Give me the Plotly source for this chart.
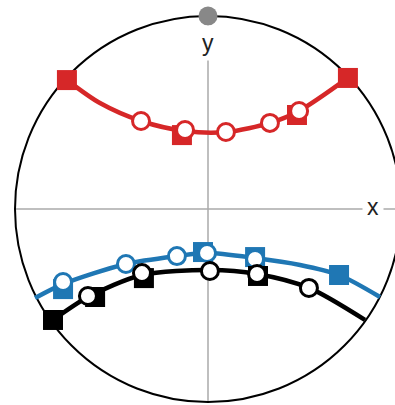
import plotly.graph_objects as go

# Curves inside the unit circle (x, y in circle units)
red_line_x = [-0.731, -0.560, -0.347, -0.119, 0.098, 0.321, 0.472, 0.725]
red_line_y = [0.668, 0.549, 0.456, 0.404, 0.399, 0.446, 0.508, 0.679]
red_sq_x = [-0.731, -0.135, 0.461, 0.725]
red_sq_y = [0.668, 0.383, 0.487, 0.679]
red_ci_x = [-0.347, -0.119, 0.093, 0.321, 0.472]
red_ci_y = [0.456, 0.409, 0.399, 0.446, 0.508]

blue_line_x = [-0.896, -0.751, -0.425, -0.161, -0.005, 0.244, 0.477, 0.679, 0.891]
blue_line_y = [-0.461, -0.389, -0.285, -0.244, -0.228, -0.254, -0.290, -0.342, -0.456]
blue_sq_x = [-0.751, -0.026, 0.244, 0.679]
blue_sq_y = [-0.415, -0.223, -0.249, -0.342]
blue_ci_x = [-0.751, -0.425, -0.161, -0.005, 0.244]
blue_ci_y = [-0.378, -0.285, -0.244, -0.228, -0.259]

black_line_x = [-0.803, -0.622, -0.342, 0.010, 0.254, 0.523, 0.813]
black_line_y = [-0.575, -0.456, -0.342, -0.316, -0.337, -0.409, -0.575]
black_sq_x = [-0.803, -0.585, -0.332, 0.259]
black_sq_y = [-0.575, -0.456, -0.358, -0.347]
black_ci_x = [-0.622, -0.342, 0.010, 0.254, 0.523]
black_ci_y = [-0.451, -0.332, -0.321, -0.337, -0.409]

pole_x = [0.0]
pole_y = [1.0]

RED = "#d62728"
BLUE = "#1f77b4"
BLACK = "#000000"

fig = go.Figure()

series = [
    (RED, red_line_x, red_line_y, red_sq_x, red_sq_y, red_ci_x, red_ci_y),
    (BLUE, blue_line_x, blue_line_y, blue_sq_x, blue_sq_y, blue_ci_x, blue_ci_y),
    (BLACK, black_line_x, black_line_y, black_sq_x, black_sq_y, black_ci_x, black_ci_y),
]

for color, lx, ly, sx, sy, cx, cy in series:
    fig.add_trace(go.Scatter(
        x=lx, y=ly, mode="lines",
        line=dict(color=color, width=4.5, shape="spline", smoothing=0.8),
        hoverinfo="skip", showlegend=False))
    fig.add_trace(go.Scatter(
        x=sx, y=sy, mode="markers",
        marker=dict(symbol="square", size=20, color=color, line=dict(width=0)),
        showlegend=False))
    fig.add_trace(go.Scatter(
        x=cx, y=cy, mode="markers",
        marker=dict(symbol="circle", size=17, color="white",
                    line=dict(color=color, width=3)),
        showlegend=False))

# North pole point
fig.add_trace(go.Scatter(
    x=pole_x, y=pole_y, mode="markers",
    marker=dict(size=19, color="#888888", line=dict(width=0)),
    showlegend=False))

# Unit circle and axes
fig.add_shape(type="line", x0=-1, y0=0, x1=1.05, y1=0,
              line=dict(color="#aaaaaa", width=1.5), layer="below")
fig.add_shape(type="line", x0=0, y0=-1, x1=0, y1=1,
              line=dict(color="#aaaaaa", width=1.5), layer="below")
fig.add_shape(type="circle", x0=-1, y0=-1, x1=1, y1=1,
              line=dict(color="black", width=2), layer="below")

fig.add_annotation(x=0.855, y=0, text="x", showarrow=False,
                   font=dict(family="Liberation Sans, Arial", size=23, color="#222222"),
                   bgcolor="white", borderpad=4, yshift=2)
fig.add_annotation(x=0, y=0.86, text="y", showarrow=False,
                   font=dict(family="Liberation Sans, Arial", size=23, color="#222222"),
                   bgcolor="white", borderpad=4)

fig.update_layout(
    width=395, height=405,
    margin=dict(l=0, r=0, t=0, b=0),
    paper_bgcolor="white", plot_bgcolor="white",
    xaxis=dict(range=[-208 / 193, 187 / 193], visible=False, fixedrange=True),
    yaxis=dict(range=[-196 / 193, 209 / 193], visible=False, fixedrange=True),
)

fig.write_html("out.html")
